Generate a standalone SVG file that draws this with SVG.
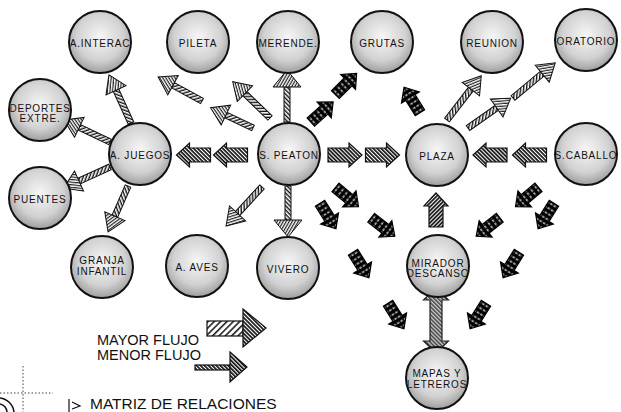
<svg xmlns="http://www.w3.org/2000/svg" width="621" height="412" viewBox="0 0 621 412">
<style>
.node circle{fill:url(#g);stroke:#111;stroke-width:2}
.node text{font-family:"Liberation Sans",Arial,sans-serif;font-size:10px;letter-spacing:0.8px;fill:#111;text-anchor:middle}
.ts{fill:url(#p-rope);stroke:#111;stroke-width:1}
.th{fill:url(#p-head);stroke:#111;stroke-width:1}
.dk{fill:url(#p-dark);stroke:#111;stroke-width:1.2}
.bk{fill:url(#p-blk);stroke:#000;stroke-width:1.2}
.gr{fill:url(#p-gray);stroke:#222;stroke-width:1.2}
.legb{fill:url(#p-leg);stroke:#111;stroke-width:1.2}
.lg{font-family:"Liberation Sans",Arial,sans-serif;font-size:14.5px;fill:#111}
.dec{fill:none;stroke:#444;stroke-width:1;stroke-dasharray:1.5 2}
</style>
<defs>
<radialGradient id="g" cx="50%" cy="42%" r="58%">
<stop offset="0" stop-color="#f6f6f6"/>
<stop offset="0.65" stop-color="#d2d2d2"/>
<stop offset="1" stop-color="#9e9e9e"/>
</radialGradient>
<clipPath id="cc"><circle r="30"/></clipPath>
<pattern id="p-rope" width="3" height="3" patternUnits="userSpaceOnUse" patternTransform="rotate(45)">
<rect width="3" height="3" fill="#fff"/><rect width="1.4" height="3" fill="#111"/>
</pattern>
<pattern id="p-head" width="2.6" height="2.6" patternUnits="userSpaceOnUse" patternTransform="rotate(-60)">
<rect width="2.6" height="2.6" fill="#fff"/><rect width="1.2" height="2.6" fill="#222"/>
</pattern>
<pattern id="p-dark" width="2.8" height="2.8" patternUnits="userSpaceOnUse" patternTransform="rotate(-45)">
<rect width="2.8" height="2.8" fill="#fff"/><rect width="1.7" height="2.8" fill="#111"/>
</pattern>
<pattern id="p-blk" width="5" height="4" patternUnits="userSpaceOnUse">
<rect width="5" height="4" fill="#000"/><rect x="1.5" y="0.5" width="1.2" height="2.6" fill="#fff"/>
</pattern>
<pattern id="p-gray" width="2.8" height="2.8" patternUnits="userSpaceOnUse" patternTransform="rotate(-45)">
<rect width="2.8" height="2.8" fill="#c8c8c8"/><rect width="1.3" height="2.8" fill="#333"/>
</pattern>
<pattern id="p-leg" width="4.5" height="4.5" patternUnits="userSpaceOnUse" patternTransform="rotate(45)">
<rect width="4.5" height="4.5" fill="#fff"/><rect width="1.6" height="4.5" fill="#222"/>
</pattern>
<path id="ka" d="M-15,-5.5 H3 V-10.5 L15,0 L3,10.5 V5.5 H-15 Z"/>
<path id="da" d="M-17,-7 H4 V-12 L17,0 L4,12 V7 H-17 Z"/>
</defs>
<rect width="621" height="412" fill="#fff"/>

<g id="connectors">
<g transform="translate(131,123) rotate(-114.6)"><rect class="ts" x="0" y="-3" width="36" height="6"/><path class="th" d="M36,-11 L53,0 L36,11 Z"/></g>
<g transform="translate(110,142) rotate(-154.4)"><rect class="ts" x="0" y="-3" width="34" height="6"/><path class="th" d="M34,-11 L51,0 L34,11 Z"/></g>
<g transform="translate(110,167) rotate(155.5)"><rect class="ts" x="0" y="-3" width="34" height="6"/><path class="th" d="M34,-11 L51,0 L34,11 Z"/></g>
<g transform="translate(128,186) rotate(113.5)"><rect class="ts" x="0" y="-3" width="33" height="6"/><path class="th" d="M33,-11 L50,0 L33,11 Z"/></g>
<g transform="translate(202,101) rotate(-151.4)"><rect class="ts" x="0" y="-3" width="33" height="6"/><path class="th" d="M33,-11 L50,0 L33,11 Z"/></g>
<g transform="translate(270,118) rotate(-135.8)"><rect class="ts" x="0" y="-3" width="35" height="6"/><path class="th" d="M35,-11 L52,0 L35,11 Z"/></g>
<g transform="translate(253,128) rotate(-154.5)"><rect class="ts" x="0" y="-3" width="30" height="6"/><path class="th" d="M30,-11 L47,0 L30,11 Z"/></g>
<g transform="translate(287,122) rotate(-90)"><rect class="ts" x="0" y="-3" width="35" height="6"/><path class="th" d="M35,-14 L52,0 L35,14 Z"/></g>
<g transform="translate(262,187) rotate(132.7)"><rect class="ts" x="0" y="-3" width="36" height="6"/><path class="th" d="M36,-11 L53,0 L36,11 Z"/></g>
<g transform="translate(288,186) rotate(90)"><rect class="ts" x="0" y="-3" width="34" height="6"/><path class="th" d="M34,-14 L51,0 L34,14 Z"/></g>
<g transform="translate(447,120) rotate(-52.3)"><rect class="ts" x="0" y="-3" width="39" height="6"/><path class="th" d="M39,-11 L56,0 L39,11 Z"/></g>
<g transform="translate(468,128) rotate(-34.9)"><rect class="ts" x="0" y="-3" width="35" height="6"/><path class="th" d="M35,-11 L52,0 L35,11 Z"/></g>
<g transform="translate(513,98) rotate(-39.8)"><rect class="ts" x="0" y="-3" width="38" height="6"/><path class="th" d="M38,-11 L55,0 L38,11 Z"/></g>

<use href="#da" class="dk" transform="translate(193.5,155) rotate(180)"/>
<use href="#da" class="dk" transform="translate(230.5,155) rotate(180)"/>
<use href="#da" class="dk" transform="translate(345,155)"/>
<use href="#da" class="dk" transform="translate(382.5,155)"/>
<use href="#da" class="dk" transform="translate(490,155) rotate(180)"/>
<use href="#da" class="dk" transform="translate(529.5,155) rotate(180)"/>
<use href="#da" class="dk" transform="translate(436,210) rotate(-90)"/>

<use href="#ka" class="bk" transform="translate(322,112) rotate(-42)"/>
<use href="#ka" class="bk" transform="translate(346,84) rotate(-45)"/>
<use href="#ka" class="bk" transform="translate(412,100) rotate(-122)"/>
<use href="#ka" class="bk" transform="translate(347,197) rotate(40)"/>
<use href="#ka" class="bk" transform="translate(328,216) rotate(58)"/>
<use href="#ka" class="bk" transform="translate(383,227) rotate(38)"/>
<use href="#ka" class="bk" transform="translate(361,265) rotate(58)"/>
<use href="#ka" class="bk" transform="translate(396,316) rotate(58)"/>
<use href="#ka" class="bk" transform="translate(527,197) rotate(140)"/>
<use href="#ka" class="bk" transform="translate(546,216) rotate(122)"/>
<use href="#ka" class="bk" transform="translate(488,227) rotate(142)"/>
<use href="#ka" class="bk" transform="translate(511,265) rotate(122)"/>
<use href="#ka" class="bk" transform="translate(478,316) rotate(122)"/>

<path class="gr" d="M436,288 L448.5,300 H442 V341 H448.5 L436,353 L423.5,341 H430 V300 H423.5 Z"/>
</g>

<g id="n-a-interac" class="node" transform="translate(100,42)"><circle r="31"/><text clip-path="url(#cc)" y="4.5">A.INTERAC</text></g>
<g id="n-pileta" class="node" transform="translate(198,42)"><circle r="31"/><text clip-path="url(#cc)" y="4.5">PILETA</text></g>
<g id="n-merende" class="node" transform="translate(288,42)"><circle r="31"/><text clip-path="url(#cc)" y="4.5">MERENDE.</text></g>
<g id="n-grutas" class="node" transform="translate(382,42)"><circle r="31"/><text clip-path="url(#cc)" y="4.5">GRUTAS</text></g>
<g id="n-reunion" class="node" transform="translate(492,42)"><circle r="31"/><text clip-path="url(#cc)" y="4.5">REUNION</text></g>
<g id="n-oratorio" class="node" transform="translate(586,40)"><circle r="31"/><text clip-path="url(#cc)" y="4.5">ORATORIO</text></g>
<g id="n-deportes" class="node" transform="translate(40,110)"><circle r="31"/><text clip-path="url(#cc)" y="2">DEPORTES</text><text clip-path="url(#cc)" y="11.5">EXTRE.</text></g>
<g id="n-a-juegos" class="node" transform="translate(140,154)"><circle r="31"/><text clip-path="url(#cc)" y="4.5">A. JUEGOS</text></g>
<g id="n-s-peaton" class="node" transform="translate(289,154)"><circle r="31"/><text clip-path="url(#cc)" y="4.5">S. PEATON</text></g>
<g id="n-plaza" class="node" transform="translate(437,155)"><circle r="31"/><text clip-path="url(#cc)" y="4.5">PLAZA</text></g>
<g id="n-s-caballo" class="node" transform="translate(586,154)"><circle r="31"/><text clip-path="url(#cc)" y="4.5">S.CABALLO</text></g>
<g id="n-puentes" class="node" transform="translate(40,198)"><circle r="31"/><text clip-path="url(#cc)" y="4.5">PUENTES</text></g>
<g id="n-granja" class="node" transform="translate(102,267)"><circle r="31"/><text clip-path="url(#cc)" y="-3.5">GRANJA</text><text clip-path="url(#cc)" y="8">INFANTIL</text></g>
<g id="n-a-aves" class="node" transform="translate(197,266)"><circle r="31"/><text clip-path="url(#cc)" y="4.5">A. AVES</text></g>
<g id="n-vivero" class="node" transform="translate(288,268)"><circle r="31"/><text clip-path="url(#cc)" y="4.5">VIVERO</text></g>
<g id="n-mirador" class="node" transform="translate(438,266)"><circle r="31"/><text clip-path="url(#cc)" y="0.5">MIRADOR</text><text clip-path="url(#cc)" y="11">DESCANSO</text></g>
<g id="n-mapas" class="node" transform="translate(437,378)"><circle r="31"/><text clip-path="url(#cc)" y="-1">MAPAS Y</text><text clip-path="url(#cc)" y="9.5">LETREROS</text></g>

<g id="legend">
<text class="lg" x="97" y="345">MAYOR FLUJO</text>
<text class="lg" x="97" y="360">MENOR FLUJO</text>
<rect class="legb" x="207" y="321" width="36" height="15"/>
<path class="dk" d="M243,309 L266,328 L243,347 Z"/>
<rect class="dk" x="195" y="365" width="35" height="5"/>
<path class="dk" d="M230,352 L247,367 L230,382 Z"/>
</g>

<g id="footer">
<path class="dec" d="M0,393 H53 M23,366 V412"/>
<path d="M0,398 A16,16 0 0 1 14,412 M0,404 A9,9 0 0 1 7,412" fill="none" stroke="#111" stroke-width="1.5"/>
<path d="M69,399 V412 M72,402 L80,406 L72,409" fill="none" stroke="#111" stroke-width="1.2"/>
<text x="90" y="408.5" font-family="Liberation Sans, Arial, sans-serif" font-size="15.5" fill="#111">MATRIZ DE RELACIONES</text>
</g>
</svg>
